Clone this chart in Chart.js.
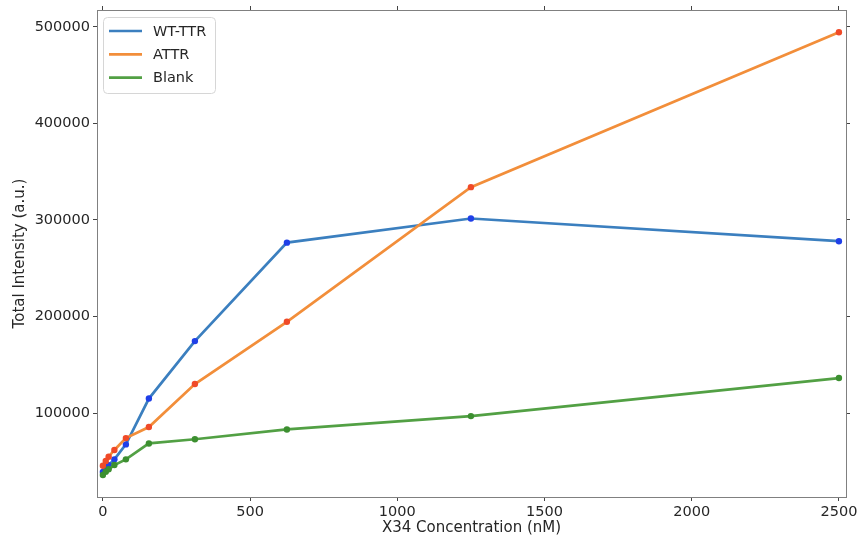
<!DOCTYPE html>
<html>
<head>
<meta charset="utf-8">
<script src="https://cdn.jsdelivr.net/npm/chart.js@4"></script>
<style>
  body { margin: 0; background: #fff; }
</style>
</head>
<body>
<canvas id="grafico" width="858" height="538"></canvas>
<script>
// concentraciones X34 (nM)
const concentraciones = [0, 9.77, 19.53, 39.06, 78.13, 156.25, 312.5, 625, 1250, 2500];
const wtTTR = [39000, 42500, 46000, 52000, 67500, 115000, 174500, 276500, 301500, 278000];
const aTTR = [45400, 50300, 54700, 61700, 74000, 85500, 130000, 194500, 334000, 494500];
const blank = [35800, 39200, 41700, 46100, 52000, 68500, 72800, 83000, 96800, 136200];
const nombres = ["WT-TTR", "ATTR", "Blank"];
const ticksY = [100000, 200000, 300000, 400000, 500000];
const ticksX = [0, 500, 1000, 1500, 2000, 2500];

const fuente = "'DejaVu Sans', sans-serif";
const colorTexto = "#262626";
const colorLineas = ["#3b7fbf", "#f28e3a", "#52a044"];
const colorPuntos = ["#1f3fe8", "#f04a28", "#3c8f30"];

function puntos(valores) {
    return concentraciones.map((c, i) => ({ x: c, y: valores[i] }));
}

const series = [wtTTR, aTTR, blank];
const datasets = series.map((s, i) => ({
    label: nombres[i],
    data: puntos(s),
    borderColor: colorLineas[i],
    borderWidth: 2.7,
    pointRadius: 3.2,
    pointBorderWidth: 0,
    pointBackgroundColor: colorPuntos[i],
    order: 3 - i,
    tension: 0
}));

// leyenda dentro del area del grafico, como en matplotlib
const leyenda = {
    id: "leyenda",
    afterDatasetsDraw(chart) {
        const ctx = chart.ctx;
        ctx.save();
        ctx.beginPath();
        ctx.roundRect(103.5, 17.5, 112, 76, 4);
        ctx.fillStyle = "rgba(255,255,255,0.85)";
        ctx.fill();
        ctx.strokeStyle = "#d6d6d6";
        ctx.lineWidth = 1;
        ctx.stroke();
        ctx.font = "14.5px " + fuente;
        ctx.textBaseline = "middle";
        for (let i = 0; i < nombres.length; i++) {
            const y = 31 + i * 23.3;
            ctx.strokeStyle = colorLineas[i];
            ctx.lineWidth = 2.7;
            ctx.beginPath();
            ctx.moveTo(109, y);
            ctx.lineTo(142, y);
            ctx.stroke();
            ctx.fillStyle = colorTexto;
            ctx.fillText(nombres[i], 153, y + 1);
        }
        ctx.restore();
    }
};

const ejeComun = {
    grid: { drawOnChartArea: false, tickLength: 4, color: "#444" },
    border: { color: "#808080", width: 1 }
};

const fuenteTicks = { family: fuente, size: 14.5 };
const fuenteTitulo = { family: fuente, size: 15 };

const conf = {
    type: "line",
    data: { datasets },
    options: {
        responsive: false,
        animation: false,
        layout: { padding: 0 },
        plugins: { legend: { display: false }, tooltip: { enabled: false } },
        scales: {
            x: {
                ...ejeComun,
                type: "linear",
                position: "bottom",
                min: -20,
                max: 2524,
                afterBuildTicks: s => { s.ticks = ticksX.map(v => ({ value: v })); },
                ticks: { color: colorTexto, font: fuenteTicks, padding: 3, maxRotation: 0, autoSkip: false, callback: v => String(v) },
                title: { display: true, text: "X34 Concentration (nM)", color: colorTexto, font: fuenteTitulo, padding: { top: 0, bottom: 1 } },
                afterFit: s => { s.height = 41; s.paddingLeft = 0; s.paddingRight = 0; }
            },
            x2: {
                ...ejeComun,
                axis: "x",
                type: "linear",
                position: "top",
                min: -20,
                max: 2524,
                afterBuildTicks: s => { s.ticks = ticksX.map(v => ({ value: v })); },
                ticks: { display: false },
                afterFit: s => { s.height = 10; s.paddingLeft = 0; s.paddingRight = 0; }
            },
            y: {
                ...ejeComun,
                type: "linear",
                position: "left",
                min: 13000,
                max: 517500,
                afterBuildTicks: s => { s.ticks = ticksY.map(v => ({ value: v })); },
                ticks: { color: colorTexto, font: fuenteTicks, padding: 3, callback: v => String(v) },
                title: { display: true, text: "Total Intensity (a.u.)", color: colorTexto, font: fuenteTitulo, padding: { top: 11, bottom: 0 } },
                afterFit: s => { s.width = 97; s.paddingTop = 0; s.paddingBottom = 0; }
            },
            y2: {
                ...ejeComun,
                axis: "y",
                type: "linear",
                position: "right",
                min: 13000,
                max: 517500,
                afterBuildTicks: s => { s.ticks = ticksY.map(v => ({ value: v })); },
                ticks: { display: false },
                afterFit: s => { s.width = 12; s.paddingTop = 0; s.paddingBottom = 0; }
            }
        }
    },
    plugins: [leyenda]
};

let grafico = new Chart(document.querySelector("#grafico"), conf);
</script>
</body>
</html>
